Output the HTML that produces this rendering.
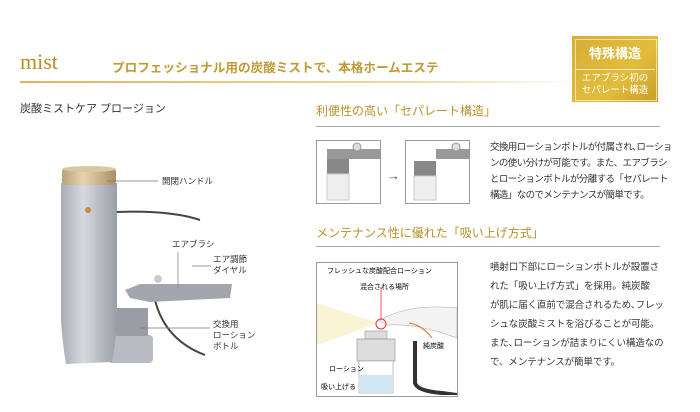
<!DOCTYPE html>
<html><head><meta charset="utf-8"><style>
body{margin:0;width:700px;height:412px;background:#fff;position:relative;overflow:hidden;font-family:"Liberation Sans","Noto Sans CJK JP",sans-serif;color:#333}
.a{position:absolute;white-space:nowrap}
.g{color:#b8922e}
.p{font-size:9.5px;line-height:16px;color:#333;letter-spacing:-0.6px}
.q{font-size:9.5px;line-height:19px;color:#333;letter-spacing:-0.1px}
</style></head><body>
<div class="a g" style="left:20px;top:49px;font-family:'Liberation Serif',serif;font-size:22px;color:#b8902a">mist</div>
<div class="a g" style="left:112px;top:57px;font-size:12.6px;font-weight:bold;color:#c09a35">プロフェッショナル用の炭酸ミストで、本格ホームエステ</div>
<div class="a" style="left:20px;top:81px;width:560px;height:2px;background:linear-gradient(90deg,#d9b85a,#ecd9a0 70%,rgba(255,255,255,0))"></div>
<div class="a" style="left:572px;top:36px;width:86px;height:66px;background:linear-gradient(135deg,#d7ad36,#e2bd3c 60%,#c99d2a)"></div>
<div class="a" style="left:575px;top:39px;width:80px;height:60px;border:1px solid rgba(255,255,255,.6)"></div>
<div class="a" style="left:575px;top:69px;width:80px;height:1px;background:rgba(255,255,255,.7)"></div>
<div class="a" style="left:572px;top:43px;width:86px;text-align:center;color:#fff;font-size:13px;font-weight:bold">特殊構造</div>
<div class="a" style="left:572px;top:73px;width:86px;text-align:center;color:#fff;font-size:9.5px;line-height:12px">エアブラシ初の<br>セパレート構造</div>
<div class="a" style="left:20px;top:100px;font-size:11px;color:#333">炭酸ミストケア プロージョン</div>
<div class="a" style="left:316px;top:102px;font-size:12px;color:#b8922e">利便性の高い「セパレート構造」</div>
<div class="a" style="left:316px;top:126px;width:344px;height:1px;background:#aaa"></div>
<div class="a" style="left:316px;top:140px;width:63px;height:62px;border:1px solid #999"></div>
<div class="a" style="left:405px;top:140px;width:63px;height:62px;border:1px solid #999"></div>
<div class="a" style="left:387px;top:168px;font-size:13px;color:#555">→</div>
<svg class="a" style="left:317px;top:141px" width="63" height="62"><rect x="10" y="8" width="60" height="10" fill="#999"/><circle cx="40" cy="6" r="4" fill="#ddd" stroke="#999"/><rect x="10" y="18" width="22" height="15" fill="#888"/><rect x="10" y="33" width="22" height="26" fill="#eee" stroke="#ccc"/></svg>
<svg class="a" style="left:406px;top:141px" width="63" height="62"><rect x="30" y="8" width="33" height="10" fill="#999"/><circle cx="50" cy="6" r="4" fill="#ddd" stroke="#999"/><rect x="8" y="20" width="22" height="15" fill="#888"/><rect x="8" y="35" width="22" height="24" fill="#eee" stroke="#ccc"/></svg>
<div class="a p" style="left:490px;top:140px">交換用ローションボトルが付属され､ローショ<br>ンの使い分けが可能です。また、エアブラシ<br>とローションボトルが分離する「セパレート<br>構造」なのでメンテナンスが簡単です。</div>
<div class="a" style="left:316px;top:224px;font-size:12px;color:#b8922e">メンテナンス性に優れた「吸い上げ方式」</div>
<div class="a" style="left:316px;top:246px;width:344px;height:1px;background:#aaa"></div>
<div class="a" style="left:316px;top:262px;width:140px;height:133px;border:1px solid #999"></div>
<svg class="a" style="left:317px;top:263px" width="140" height="132" font-family="Liberation Sans,Noto Sans CJK JP,sans-serif" font-size="7">
<polygon points="0,40 62,60 0,82" fill="#fbf3d6"/>
<path d="M62,58 Q90,40 140,45 L140,75 Q100,60 70,62Z" fill="#f4f4f4" stroke="#bbb" stroke-width=".7"/>
<rect x="48" y="68" width="22" height="8" fill="#ddd" stroke="#999" stroke-width=".6"/>
<rect x="40" y="76" width="38" height="22" fill="#ddd" stroke="#888" stroke-width=".6"/>
<rect x="42" y="98" width="34" height="32" fill="#fff" stroke="#999" stroke-width=".6"/>
<rect x="43" y="112" width="32" height="18" fill="#cfe6f5"/>
<path d="M98,78 L98,120 Q100,128 125,130 L140,132" fill="none" stroke="#333" stroke-width="4"/>
<circle cx="64" cy="61" r="5" fill="none" stroke="#e33" stroke-width="1"/>
<line x1="64" y1="24" x2="64" y2="56" stroke="#e33" stroke-width=".8"/>
<path d="M92,60 Q105,62 115,75" fill="none" stroke="#e8843a" stroke-width="1.2"/>
<text x="10" y="10">フレッシュな炭酸配合ローション</text>
<text x="43" y="26">混合される場所</text>
<text x="106" y="85">純炭酸</text>
<text x="12" y="108">ローション</text>
<text x="4" y="126">吸い上げる</text>
</svg>
<div class="a q" style="left:490px;top:258px">噴射口下部にローションボトルが設置さ<br>れた「吸い上げ方式」を採用。純炭酸<br>が肌に届く直前で混合されるため､フレッ<br>シュな炭酸ミストを浴びることが可能。<br>また､ローションが詰まりにくい構造なの<br>で、メンテナンスが簡単です。</div>
<svg class="a" style="left:0;top:140px" width="300" height="272" font-family="Liberation Sans,Noto Sans CJK JP,sans-serif" font-size="8.5" fill="#333">
<defs><linearGradient id="c" x1="0" x2="1"><stop offset="0" stop-color="#a8acb4"/><stop offset=".4" stop-color="#d6d9de"/><stop offset="1" stop-color="#9a9ea6"/></linearGradient>
<linearGradient id="gd" x1="0" x2="1"><stop offset="0" stop-color="#b9a27a"/><stop offset=".4" stop-color="#e6d4ae"/><stop offset="1" stop-color="#a88f66"/></linearGradient></defs>
<path d="M115,72 Q170,70 200,80" fill="none" stroke="#444" stroke-width="2"/>
<path d="M155,160 Q165,200 205,215" fill="none" stroke="#444" stroke-width="2"/>
<rect x="108" y="195" width="45" height="28" rx="4" fill="#b8bcc2"/>
<rect x="116" y="168" width="32" height="28" fill="#9a9ea4"/>
<path d="M125,150 L140,144 L232,144 L230,158 L150,162 L130,158Z" fill="#a3a7ad"/>
<circle cx="158" cy="139" r="4" fill="#ccc"/>
<path d="M61,43 L117,43 L117,180 Q116,200 112,222 L66,224 Q62,200 61,180Z" fill="url(#c)"/>
<rect x="62" y="28" width="54" height="17" rx="4" fill="url(#gd)"/>
<ellipse cx="89" cy="29" rx="27" ry="3" fill="#d8c7a3"/>
<circle cx="88" cy="70" r="3" fill="#c98a3a"/>
<line x1="107" y1="41" x2="158" y2="41" stroke="#777" stroke-width=".7"/>
<line x1="178" y1="112" x2="178" y2="148" stroke="#777" stroke-width=".7"/>
<line x1="192" y1="126" x2="211" y2="126" stroke="#777" stroke-width=".7"/>
<line x1="140" y1="188" x2="210" y2="188" stroke="#777" stroke-width=".7"/>
<text x="162" y="44">開閉ハンドル</text>
<text x="172" y="107">エアブラシ</text>
<text x="213" y="122">エア調節</text><text x="213" y="133">ダイヤル</text>
<text x="213" y="187">交換用</text><text x="213" y="198">ローション</text><text x="213" y="209">ボトル</text>
</svg>
</body></html>
